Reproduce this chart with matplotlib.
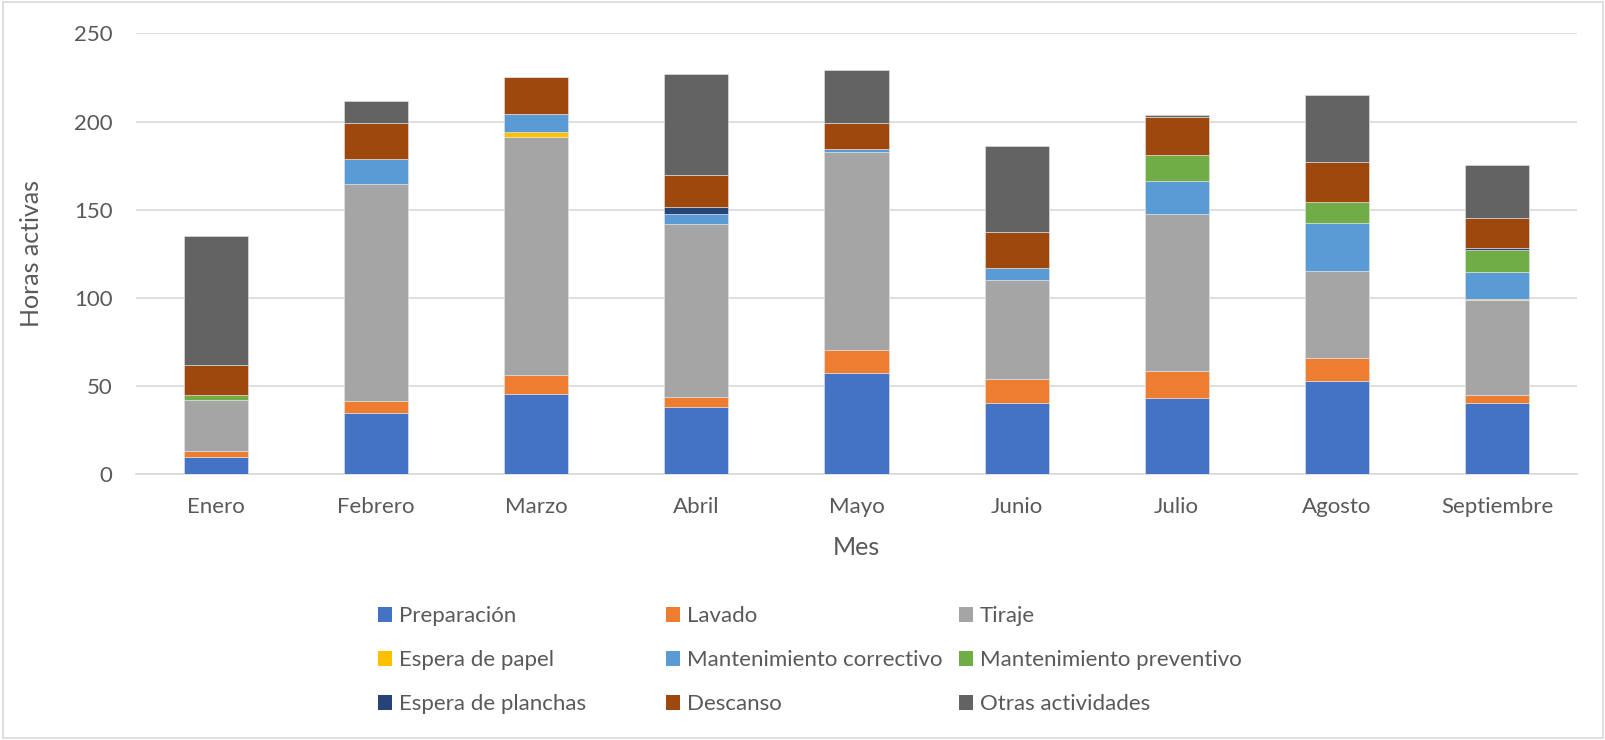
import numpy as np
import matplotlib.pyplot as plt
from matplotlib.patches import Patch, Rectangle

# horas por mes y por actividad
meses = ['Enero', 'Febrero', 'Marzo', 'Abril', 'Mayo', 'Junio', 'Julio', 'Agosto', 'Septiembre']
preparacion = [9.8, 34.9, 45.6, 38.3, 57.4, 40.5, 43.2, 53.0, 40.5]
lavado = [3.4, 6.8, 10.5, 5.6, 12.8, 13.6, 15.1, 12.7, 4.6]
tiraje = [28.7, 122.7, 135.3, 97.8, 112.5, 56.3, 89.5, 49.8, 53.8]
espera_papel = [0, 0, 2.8, 0, 0, 0, 0, 0, 0.5]
mant_correctivo = [0, 14.1, 9.8, 5.7, 1.9, 6.4, 18.5, 27.2, 15.0]
mant_preventivo = [2.8, 0, 0, 0, 0, 0, 14.5, 11.5, 12.8]
espera_planchas = [0, 0, 0, 4.1, 0, 0, 0, 0, 1.3]
descanso = [17.0, 20.4, 21.5, 18.4, 14.7, 20.8, 21.9, 22.6, 17.0]
otras = [73.2, 13.0, 0, 56.8, 30.0, 48.7, 1.2, 38.2, 30.0]

series = [
    ('Preparación', preparacion, '#4472C4'),
    ('Lavado', lavado, '#ED7D31'),
    ('Tiraje', tiraje, '#A5A5A5'),
    ('Espera de papel', espera_papel, '#FFC000'),
    ('Mantenimiento correctivo', mant_correctivo, '#5B9BD5'),
    ('Mantenimiento preventivo', mant_preventivo, '#70AD47'),
    ('Espera de planchas', espera_planchas, '#264478'),
    ('Descanso', descanso, '#9E480E'),
    ('Otras actividades', otras, '#636363'),
]

plt.rcParams['font.family'] = ['Lato', 'DejaVu Sans']
txt = '#595959'

fig = plt.figure(figsize=(16.06, 7.40), dpi=100)
ax = fig.add_axes([136/1606, 1-474.3/740, (1577-136)/1606, (474.3-33.3)/740])

x = np.arange(len(meses))
bottom = np.zeros(len(meses))
for name, vals, col in series:
    vals = np.array(vals)
    ax.bar(x, vals, 0.4, bottom=bottom, color=col, edgecolor='#e6e6e6', linewidth=0.4, zorder=3)
    bottom += vals

ax.set_xlim(-0.5, len(meses)-0.5)
ax.set_ylim(0, 250)
ax.set_yticks(np.arange(0, 251, 50))
ax.set_xticks(x)
ax.set_xticklabels(meses)
ax.grid(axis='y', color='#d9d9d9', linewidth=1.2, zorder=0)
for s in ['top', 'right', 'left']:
    ax.spines[s].set_visible(False)
ax.spines['bottom'].set_color('#d9d9d9')
ax.spines['bottom'].set_linewidth(1.2)
ax.tick_params(axis='both', length=0, labelsize=16, colors=txt)
ax.tick_params(axis='x', pad=16)
ax.tick_params(axis='y', pad=17)
ax.set_xlabel('Mes', fontsize=18, color=txt, labelpad=14)
ax.set_ylabel('Horas activas', fontsize=18, color=txt, labelpad=22)

# leyenda en tres columnas
col_x = [378, 666, 959]
for c in range(3):
    handles = [Patch(facecolor=series[r*3+c][2], label=series[r*3+c][0]) for r in range(3)]
    fig.legend(handles=handles, loc='upper left', bbox_to_anchor=(col_x[c]/1606, 1-606/740),
               frameon=False, fontsize=16, labelcolor=txt, handlelength=0.65, handleheight=0.65,
               handletextpad=0.3, labelspacing=1.09, borderaxespad=0, borderpad=0)

fig.patches.append(Rectangle((0.002, 0.003), 0.996, 0.994, transform=fig.transFigure,
                             fill=False, edgecolor='#d9d9d9', linewidth=1.2))

fig.savefig('out.png', dpi=100)
